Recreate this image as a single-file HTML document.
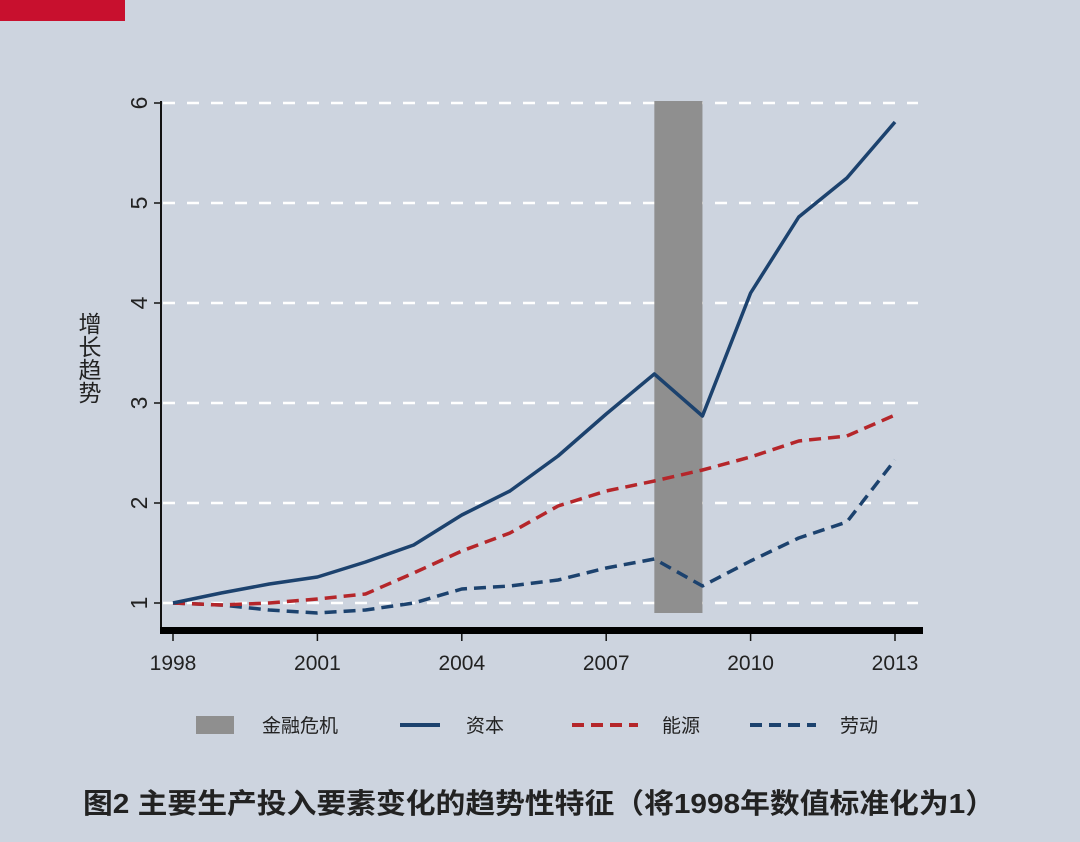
<!DOCTYPE html>
<html><head><meta charset="utf-8"><style>
body{margin:0;width:1080px;height:842px;background:#cdd4df;overflow:hidden;font-family:"Liberation Sans","Noto Sans CJK SC",sans-serif}
</style></head><body>
<svg width="1080" height="842" id="c" style="position:absolute;left:0;top:0">
<rect x="0" y="0" width="1080" height="842" fill="#cdd4df"/>
<rect x="0" y="0" width="125" height="21" fill="#c8102e"/>
<g id="grid"></g><g id="marks"></g><g id="axes"></g>
<text x="90" y="312" font-size="23" fill="#222" style="writing-mode:vertical-rl" font-family="Noto Sans CJK SC,sans-serif" text-anchor="start">增长趋势</text>
<g>
<rect x="196" y="716" width="38" height="18" fill="#8f8f8f"/>
<text x="262" y="732" font-size="19" fill="#222">金融危机</text>
<line x1="400" y1="725" x2="440" y2="725" stroke="#1c426e" stroke-width="4"/>
<text x="466" y="732" font-size="19" fill="#222">资本</text>
<line x1="572" y1="725" x2="638" y2="725" stroke="#b5262a" stroke-width="4" stroke-dasharray="12,7"/>
<text x="662" y="732" font-size="19" fill="#222">能源</text>
<line x1="750" y1="725" x2="816" y2="725" stroke="#1c426e" stroke-width="4" stroke-dasharray="12,7"/>
<text x="840" y="732" font-size="19" fill="#222">劳动</text>
</g>
<text x="83" y="813" font-size="28" font-weight="bold" fill="#222" textLength="912" lengthAdjust="spacingAndGlyphs">图2  主要生产投入要素变化的趋势性特征（将1998年数值标准化为1）</text>
</svg>
<script>
const years=[1998,1999,2000,2001,2002,2003,2004,2005,2006,2007,2008,2009,2010,2011,2012,2013];
const capital=[1.0,1.1,1.19,1.26,1.41,1.58,1.88,2.12,2.47,2.89,3.29,2.87,4.1,4.86,5.25,5.81];
const energy=[1.0,0.98,1.0,1.04,1.09,1.30,1.52,1.70,1.97,2.12,2.22,2.33,2.46,2.62,2.67,2.88];
const labor=[1.0,0.98,0.93,0.90,0.93,1.00,1.14,1.17,1.23,1.35,1.44,1.17,1.42,1.65,1.81,2.43];
const yTicks=[1,2,3,4,5,6];
const xTicks=[1998,2001,2004,2007,2010,2013];
const crisis=[2008,2009];
const X=v=>173+(v-1998)*(895-173)/15;
const Y=v=>603-(v-1)*100;
const NS='http://www.w3.org/2000/svg';
function mk(p,t,a){const e=document.createElementNS(NS,t);for(const k in a)e.setAttribute(k,a[k]);document.getElementById(p).appendChild(e);return e;}
yTicks.forEach(t=>{
 const g=mk('grid','line',{x1:163,x2:918,y1:Y(t),y2:Y(t),stroke:'#fff','stroke-width':2.5,'stroke-dasharray':'12,12'});
 
 
 const tk=mk('axes','line',{x1:154,x2:161,y1:Y(t),y2:Y(t),stroke:'#111','stroke-width':1.5});
 
 
 const tl=mk('axes','text',{x:0,y:0,'font-size':23,fill:'#222','text-anchor':'middle',transform:`translate(147,${Y(t)}) rotate(-90)`});
 tl.textContent=t;
 
 
});
const cr=mk('marks','rect',{x:X(crisis[0]),y:Y(6.02),width:X(crisis[1])-X(crisis[0]),height:Y(0.9)-Y(6.02),fill:'#8f8f8f'});


function line(d,col,dash,name){
 const p=mk('marks','polyline',{points:d.map((v,i)=>X(years[i])+','+Y(v)).join(' '),fill:'none',stroke:col,'stroke-width':3.5,'stroke-linejoin':'round'});
 if(dash)p.setAttribute('stroke-dasharray',dash);
 
 
}
line(labor,'#1c426e','12,7','labor-line');
line(energy,'#b5262a','12,7','energy-line');
line(capital,'#1c426e',null,'capital-line');
const ya=mk('axes','line',{x1:161,x2:161,y1:101,y2:632,stroke:'#111','stroke-width':2});


const xa=mk('axes','rect',{x:160,y:627,width:763,height:7,fill:'#000'});


xTicks.forEach(t=>{
 const tk=mk('axes','line',{x1:X(t),x2:X(t),y1:634,y2:641,stroke:'#111','stroke-width':1.5});
 
 
 const tl=mk('axes','text',{x:X(t),y:670,'font-size':21,fill:'#222','text-anchor':'middle'});
 tl.textContent=t;
 
 
});
</script>
</body></html>
